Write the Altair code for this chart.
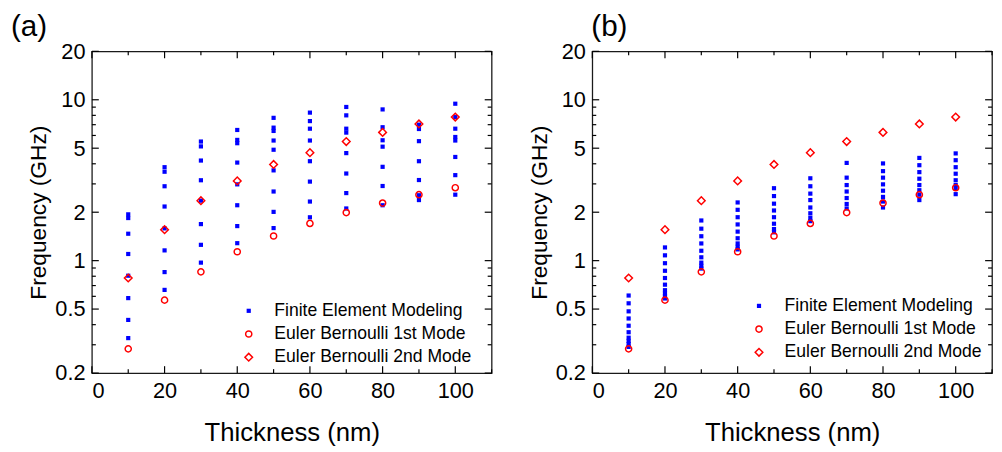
import altair as alt
import pandas as pd

FONT = "Liberation Sans"

thickness = [10, 20, 30, 40, 50, 60, 70, 80, 90, 100]

# Panel (a): finite element modeling frequencies (GHz), one list per thickness
fem_a = [
    [1.94, 1.84, 1.47, 1.10, 0.806, 0.585, 0.428, 0.330],
    [3.81, 3.57, 2.90, 2.17, 1.587, 1.158, 0.849, 0.658],
    [5.50, 5.13, 4.19, 3.16, 2.36, 1.687, 1.254, 0.972],
    [6.49, 5.63, 5.37, 4.07, 2.98, 2.21, 1.64, 1.284],
    [7.72, 6.71, 6.40, 5.58, 4.89, 3.64, 2.69, 2.01, 1.594],
    [8.32, 7.37, 6.61, 5.58, 4.15, 3.10, 2.33, 1.86],
    [9.02, 8.00, 6.61, 6.25, 4.66, 3.48, 2.63, 2.11],
    [8.71, 6.75, 5.60, 5.11, 3.83, 2.91, 2.21],
    [7.00, 6.58, 5.53, 4.15, 3.17, 2.55, 2.38],
    [9.45, 7.80, 6.61, 5.87, 5.58, 4.41, 3.40, 2.57],
]

# Panel (b): finite element modeling frequencies (GHz), one list per thickness
fem_b = [
    [0.607, 0.543, 0.484, 0.437, 0.394, 0.359, 0.332, 0.317, 0.303, 0.291],
    [1.208, 1.079, 0.964, 0.865, 0.780, 0.709, 0.655, 0.625, 0.601, 0.582],
    [1.777, 1.580, 1.418, 1.279, 1.152, 1.049, 0.972, 0.928, 0.893],
    [2.30, 2.07, 1.862, 1.679, 1.515, 1.378, 1.279, 1.219, 1.175],
    [2.82, 2.52, 2.26, 2.05, 1.862, 1.696, 1.572, 1.50],
    [3.25, 2.90, 2.61, 2.38, 2.14, 1.97, 1.846, 1.76],
    [4.05, 3.28, 2.95, 2.69, 2.45, 2.25, 2.11],
    [4.02, 3.60, 3.28, 2.98, 2.72, 2.49, 2.33, 2.14],
    [4.35, 3.92, 3.55, 3.23, 2.95, 2.74, 2.57, 2.38],
    [4.64, 4.21, 3.81, 3.47, 3.16, 2.95, 2.82, 2.59],
]

eb_first = [0.283, 0.568, 0.852, 1.136, 1.423, 1.703, 1.99, 2.28, 2.57, 2.84]
eb_second = [0.780, 1.558, 2.36, 3.13, 3.96, 4.69, 5.50, 6.27, 7.07, 7.81]

series_names = ["Finite Element Modeling", "Euler Bernoulli 1st Mode", "Euler Bernoulli 2nd Mode"]

x_labels = [0, 20, 40, 60, 80, 100]
x_minor = [10, 30, 50, 70, 90, 110]
y_labels = [0.2, 0.5, 1, 2, 5, 10, 20]
y_minor = [0.3, 0.4, 0.6, 0.7, 0.8, 0.9, 3, 4, 6, 7, 8, 9]

W, H = 405, 326
MAJ, MIN = 7, 4

X_TITLE = "Thickness (nm)"
Y_TITLE = "Frequency (GHz)"


def build_df(fem):
    rows = []
    for t, vals in zip(thickness, fem):
        for v in vals:
            rows.append({"t": t, "f": v, "s": series_names[0]})
    for t, v in zip(thickness, eb_first):
        rows.append({"t": t, "f": v, "s": series_names[1]})
    for t, v in zip(thickness, eb_second):
        rows.append({"t": t, "f": v, "s": series_names[2]})
    return pd.DataFrame(rows)


xscale = alt.Scale(domain=[0, 110], nice=False, zero=False)
yscale = alt.Scale(type="log", domain=[0.2, 20], nice=False)


def tick_layers():
    layers = []
    for vals, ln in ((x_labels, MAJ), (x_minor, MIN)):
        d = pd.DataFrame({"t": vals})
        base = alt.Chart(d).mark_rule(color="black", strokeWidth=1.2)
        layers.append(base.encode(x=alt.X("t:Q", scale=xscale, title=X_TITLE),
                                  y=alt.value(H), y2=alt.value(H - ln)))
        layers.append(base.encode(x=alt.X("t:Q", scale=xscale, title=X_TITLE),
                                  y=alt.value(0), y2=alt.value(ln)))
    for vals, ln in ((y_labels, MAJ), (y_minor, MIN)):
        d = pd.DataFrame({"f": vals})
        base = alt.Chart(d).mark_rule(color="black", strokeWidth=1.2)
        layers.append(base.encode(y=alt.Y("f:Q", scale=yscale, title=Y_TITLE),
                                  x=alt.value(0), x2=alt.value(ln)))
        layers.append(base.encode(y=alt.Y("f:Q", scale=yscale, title=Y_TITLE),
                                  x=alt.value(W), x2=alt.value(W - ln)))
    return layers


def panel(fem, label, title_dx, leg_x, leg_y):
    df = build_df(fem)
    leg = alt.Legend(title=None, orient="none", legendX=leg_x, legendY=leg_y,
                     labelFontSize=17.8, labelFont=FONT, labelColor="black",
                     labelOffset=17, rowPadding=4.5, padding=0, labelLimit=400,
                     symbolStrokeWidth=1.5)
    points = alt.Chart(df).mark_point(opacity=1, strokeWidth=1.5).encode(
        x=alt.X("t:Q", scale=xscale, title=X_TITLE,
                axis=alt.Axis(values=x_labels, labelPadding=8, titlePadding=18, titleFontSize=26)),
        y=alt.Y("f:Q", scale=yscale, title=Y_TITLE,
                axis=alt.Axis(values=y_labels, format="~g", labelPadding=7, titlePadding=4, titleFontSize=23)),
        shape=alt.Shape("s:N", scale=alt.Scale(domain=series_names, range=["square", "circle", "diamond"]), legend=leg),
        fill=alt.Fill("s:N", scale=alt.Scale(domain=series_names, range=["#0000ff", "transparent", "transparent"]), legend=leg),
        stroke=alt.Stroke("s:N", scale=alt.Scale(domain=series_names, range=["transparent", "#ff0000", "#ff0000"]), legend=leg),
        size=alt.Size("s:N", scale=alt.Scale(domain=series_names, range=[18, 60, 90]), legend=leg),
    )
    return alt.layer(points, *tick_layers()).properties(
        width=W, height=H,
        title=alt.TitleParams(label, anchor="start", frame="group", fontSize=30, font=FONT,
                              fontWeight="normal", color="black", dx=title_dx, offset=-1.5),
    )


pa = panel(fem_a, "(a)", -82, 150, 254)
pb = panel(fem_b, "(b)", -1, 160, 249)

chart = (
    alt.hconcat(pa, pb, spacing=34)
    .resolve_scale(shape="independent", fill="independent", stroke="independent", size="independent")
    .resolve_legend(shape="independent", fill="independent", stroke="independent", size="independent")
    .properties(padding={"left": 2, "top": 0, "right": 0, "bottom": 0})
    .configure_view(stroke="#1a1a1a", strokeWidth=1.3)
    .configure_axis(domain=False, ticks=False, grid=False, labelFont=FONT, titleFont=FONT,
                    labelFontSize=22, titleFontSize=24, titleFontWeight="normal",
                    labelColor="black", titleColor="black")
)

chart.save("out.html", embed_options={"renderer": "svg", "actions": False})
